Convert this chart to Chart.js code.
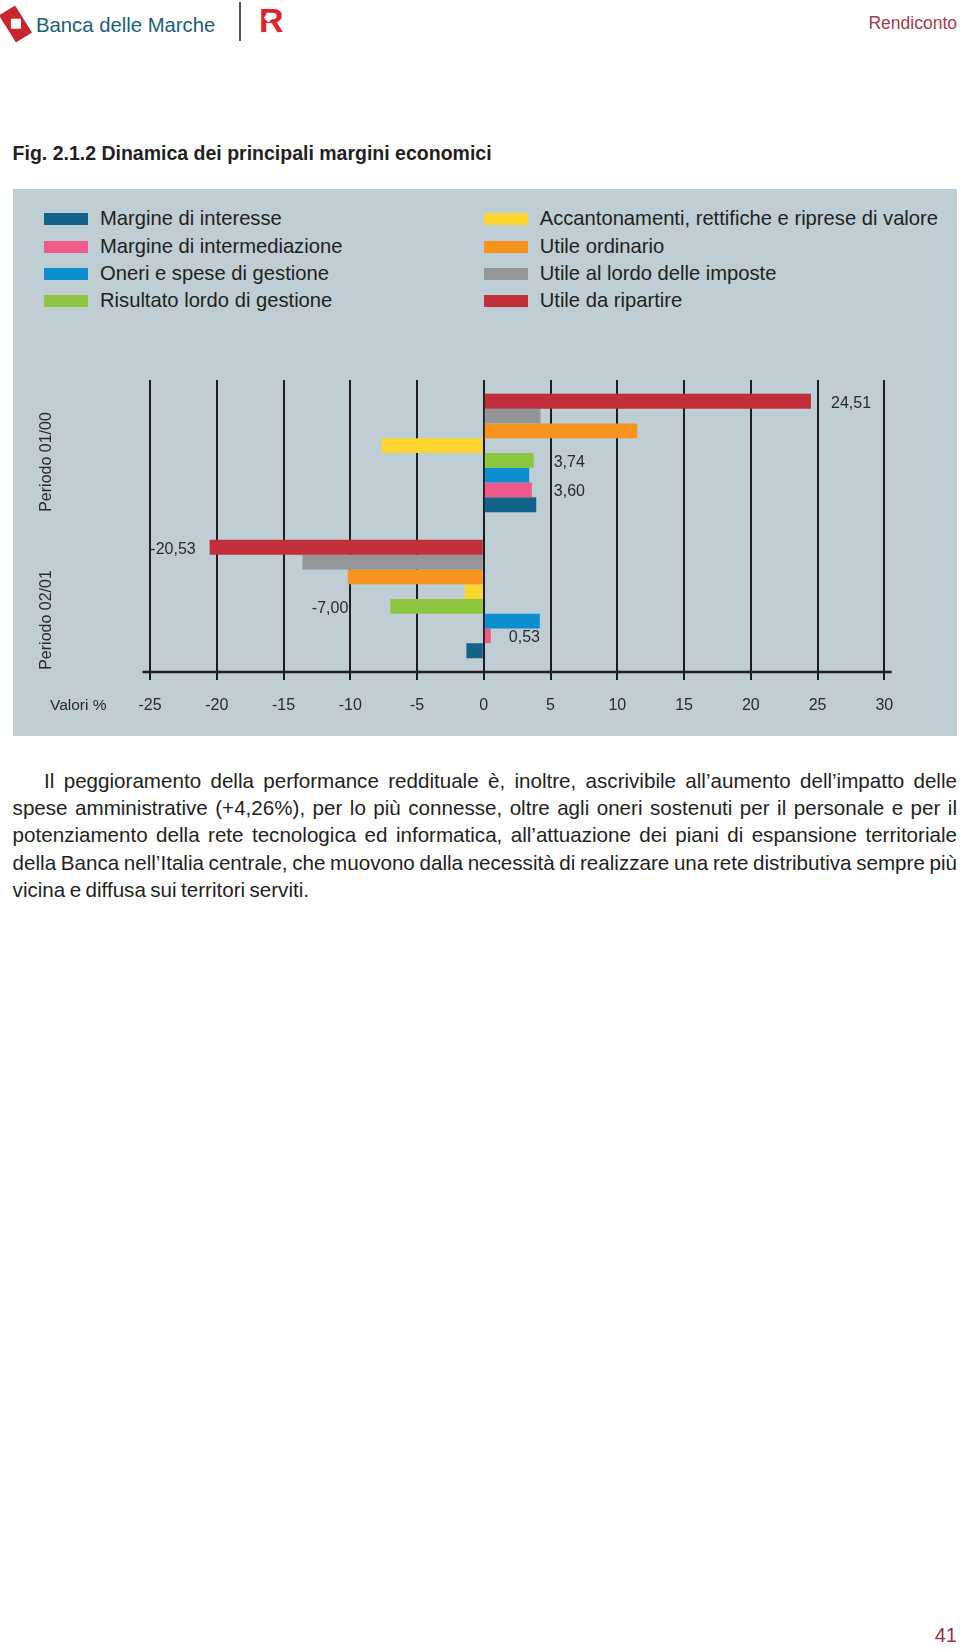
<!DOCTYPE html>
<html lang="it">
<head>
<meta charset="utf-8">
<title>Fig. 2.1.2 Dinamica dei principali margini economici</title>
<script src="https://cdn.jsdelivr.net/npm/chart.js@4.4.1/dist/chart.umd.min.js"></script>
<style>
  body { margin: 0; width: 960px; height: 1649px; position: relative; background: #fff; overflow: hidden;
         font-family: "Liberation Sans", Arial, sans-serif; color: #231f20; }
  .abs { position: absolute; white-space: nowrap; }
  /* header */
  #logoMark { left: 6px; top: 8px; width: 19px; height: 32px; background: #c8262f; transform: rotate(-32deg); }
  #logoMark div { position: absolute; left: 5px; top: 11px; width: 10px; height: 10px; background: #fff; transform: rotate(32deg); }
  #bankName { left: 36px; top: 14px; font-size: 20.3px; color: #1b5e79; }
  #sep { left: 239px; top: 2px; width: 1.5px; height: 39px; background: #555; }
  #rLogo { left: 259px; top: 3px; font-size: 34px; font-weight: bold; color: #e3202e; line-height: 34px; }
  #rLogo span { position: absolute; left: 6px; top: 11px; width: 7px; height: 7px; background: #fff; transform: rotate(45deg); }
  #section { right: 3px; top: 13px; font-size: 17.5px; color: #a83a4a; }
  #title { left: 12.6px; top: 141px; font-size: 19.5px; font-weight: bold; line-height: 24px; }
  #panel { left: 12.6px; top: 189px; width: 944.4px; height: 547px; background: #bfcdd4; }
  .legItem { position: absolute; height: 27px; line-height: 27px; font-size: 20.2px; color: #231f20; white-space: nowrap; }
  .legItem i { position: absolute; left: 0; top: 8px; width: 44px; height: 12px; }
  .legItem span { position: absolute; left: 56px; top: 0; }
  #chart { position: absolute; left: 12px; top: 360px; }
  #valori { left: 50px; top: 696px; font-size: 15.5px; color: #2a2a2a; }
  #body { position: absolute; left: 12.6px; top: 766.5px; width: 944.4px; font-size: 20.6px; word-spacing: -1.3px;
          line-height: 27.35px; color: #231f20; }
  #body div { text-align: justify; text-align-last: justify; white-space: nowrap; }
  #body div.first { text-indent: 31.5px; }
  #body div.last { text-align-last: left; }
  #pageNo { right: 3px; top: 1624px; font-size: 20px; color: #a03040; }
</style>
</head>
<body>
<div class="abs" id="logoMark"><div></div></div>
<div class="abs" id="bankName">Banca delle Marche</div>
<div class="abs" id="sep"></div>
<div class="abs" id="rLogo">R<span></span></div>
<div class="abs" id="section">Rendiconto</div>

<div class="abs" id="title">Fig. 2.1.2 Dinamica dei principali margini economici</div>

<div class="abs" id="panel"></div>
<div id="legend"></div>
<canvas id="chart" width="945" height="376"></canvas>
<div class="abs" id="valori">Valori %</div>

<div id="body">
  <div class="first">Il peggioramento della performance reddituale è, inoltre, ascrivibile all’aumento dell’impatto delle</div>
  <div>spese amministrative (+4,26%), per lo più connesse, oltre agli oneri sostenuti per il personale e per il</div>
  <div>potenziamento della rete tecnologica ed informatica, all’attuazione dei piani di espansione territoriale</div>
  <div>della Banca nell’Italia centrale, che muovono dalla necessità di realizzare una rete distributiva sempre più</div>
  <div class="last">vicina e diffusa sui territori serviti.</div>
</div>

<div class="abs" id="pageNo">41</div>

<script>
// Categories (periods) and x axis ticks
const periods = ['Periodo 01/00', 'Periodo 02/01'];
const valueTicks = [-25, -20, -15, -10, -5, 0, 5, 10, 15, 20, 25, 30];

// Series, in legend order
const seriesNames = [
  'Margine di interesse',
  'Margine di intermediazione',
  'Oneri e spese di gestione',
  'Risultato lordo di gestione',
  'Accantonamenti, rettifiche e riprese di valore',
  'Utile ordinario',
  'Utile al lordo delle imposte',
  'Utile da ripartire'
];
const seriesColors = ['#13628a', '#ee5a8a', '#0b8fcf', '#8cc63f', '#fcd630', '#f7931e', '#939598', '#c1303a'];

// Values % per period
const margineInteresse = [3.93, -1.30];
const margineIntermediazione = [3.60, 0.53];
const oneriSpese = [3.40, 4.20];
const risultatoLordo = [3.74, -7.00];
const accantonamenti = [-7.65, -1.43];
const utileOrdinario = [11.50, -10.18];
const utileLordoImposte = [4.25, -13.58];
const utileRipartire = [24.51, -20.53];

const seriesValues = [margineInteresse, margineIntermediazione, oneriSpese, risultatoLordo,
                      accantonamenti, utileOrdinario, utileLordoImposte, utileRipartire];

// HTML legend, two columns of four
const legend = document.getElementById('legend');
seriesNames.forEach((name, i) => {
  const item = document.createElement('div');
  item.className = 'legItem';
  const col = Math.floor(i / 4), row = i % 4;
  item.style.left = (col === 0 ? 44 : 483.7) + 'px';
  item.style.top = (205.2 + row * 27.33) + 'px';
  item.innerHTML = '<i style="background:' + seriesColors[i] + '"></i><span>' + name + '</span>';
  legend.appendChild(item);
});

// bars are stacked top-to-bottom in reverse legend order
const datasets = seriesNames.map((name, i) => ({
  label: name,
  data: seriesValues[i],
  backgroundColor: seriesColors[i],
  borderWidth: 0
})).reverse();

const textColor = '#2a2a2a';
const labelFont = '16px "Liberation Sans", Arial, sans-serif';

// which bars carry a value label, and where (series index in legend order)
const valueLabels = [
  { series: 7, period: 0, dx: 20 },
  { series: 3, period: 0, dx: 20 },
  { series: 1, period: 0, dx: 22 },
  { series: 7, period: 1, dx: -14 },
  { series: 3, period: 1, dx: -42 },
  { series: 1, period: 1, dx: 18 }
];
const periodLabelOffsets = [9, 21];

function fmt(v) {
  return v.toFixed(2).replace('.', ',');
}

const extrasPlugin = {
  id: 'extras',
  afterDatasetsDraw(chart) {
    const ctx = chart.ctx;
    const area = chart.chartArea;
    const yScale = chart.scales.y;

    // axis baseline, a bit longer than the plot
    ctx.save();
    ctx.strokeStyle = '#1e1e1e';
    ctx.lineWidth = 2.5;
    ctx.beginPath();
    ctx.moveTo(area.left - 7.5, area.bottom);
    ctx.lineTo(area.right + 7.5, area.bottom);
    ctx.stroke();

    // value labels next to the bars
    ctx.font = labelFont;
    ctx.fillStyle = textColor;
    ctx.textBaseline = 'middle';
    valueLabels.forEach(l => {
      const dsIndex = seriesNames.length - 1 - l.series;
      const bar = chart.getDatasetMeta(dsIndex).data[l.period];
      const v = seriesValues[l.series][l.period];
      ctx.textAlign = l.dx >= 0 ? 'left' : 'right';
      ctx.fillText(fmt(v), bar.x + l.dx, bar.y + 2);
    });

    // rotated period labels
    ctx.textAlign = 'center';
    periods.forEach((p, i) => {
      ctx.save();
      ctx.translate(34.7, yScale.getPixelForValue(i) + periodLabelOffsets[i]);
      ctx.rotate(-Math.PI / 2);
      ctx.fillText(p, 0, 0);
      ctx.restore();
    });
    ctx.restore();
  }
};

new Chart(document.getElementById('chart'), {
  type: 'bar',
  data: { labels: periods, datasets: datasets },
  options: {
    indexAxis: 'y',
    responsive: false,
    animation: false,
    devicePixelRatio: 1,
    categoryPercentage: 0.81,
    barPercentage: 1.0,
    layout: { padding: { left: 0, right: 72.7, top: 20, bottom: 0 } },
    plugins: { legend: { display: false }, tooltip: { enabled: false } },
    scales: {
      x: {
        type: 'linear',
        min: -25,
        max: 30,
        afterBuildTicks: scale => { scale.ticks = valueTicks.map(v => ({ value: v })); },
        afterFit: scale => { scale.height = 64; },
        grid: { color: '#1e1e1e', lineWidth: 2, drawTicks: true, tickLength: 8, tickColor: '#1e1e1e', tickWidth: 2 },
        border: { display: false },
        ticks: {
          autoSkip: false,
          color: textColor,
          padding: 16,
          font: { family: '"Liberation Sans", Arial, sans-serif', size: 16 },
          callback: v => String(v)
        }
      },
      y: {
        type: 'category',
        afterFit: scale => { scale.width = 138; },
        grid: { display: false },
        border: { display: false },
        ticks: { display: false }
      }
    }
  },
  plugins: [extrasPlugin]
});
</script>
</body>
</html>
